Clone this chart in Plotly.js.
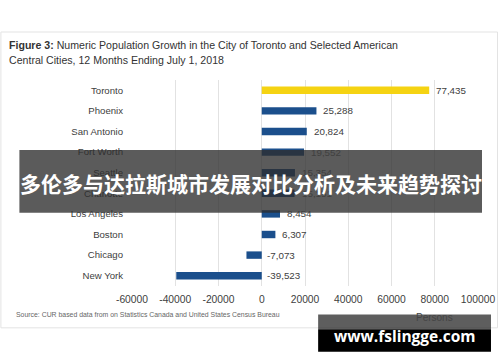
<!DOCTYPE html>
<html><head><meta charset="utf-8">
<script src="https://cdn.plot.ly/plotly-3.0.1.min.js"></script>
<style>html,body{margin:0;padding:0;background:#fff}#chart{width:500px;height:362px}</style>
</head><body><div id="chart"></div>
<script>
const cities = ["Toronto","Phoenix","San Antonio","Fort Worth","Seattle","Charlotte","Los Angeles","Boston","Chicago","New York"];
const growth = [77435,25288,20824,19552,15354,15151,8454,6307,-7073,-39523];
const xTicks = [-60000,-40000,-20000,0,20000,40000,60000,80000,100000];
const xTickText = ["-60000","-40000","-20000","0","20000","40000","60000","80000","100000"];
const titleLines = ["<b>Figure 3:</b> Numeric Population Growth in the City of Toronto and Selected American", "Central Cities, 12 Months Ending July 1, 2018"];
const sourceText = "Source: CUR based data from on Statistics Canada and United States Census Bureau";
const bannerText = "多伦多与达拉斯城市发展对比分析及未来趋势探讨";
const siteText = "www.fslingge.com";
const axisTitle = "Persons";

const L = 131.7, R = 478, T = 79.7, B = 286.5;
const W = R - L, H = B - T;
const px = x => (x - L) / W;
const py = y => 1 - (y - T) / H;

const font = "Liberation Sans, Arial, sans-serif";
const colors = cities.map(c => c === "Toronto" ? "#f5d312" : "#1b4f8c");

const fmt = v => (v < 0 ? "-" : "") + Math.abs(v).toLocaleString("en-US");

const annotations = cities.map((c, i) => ({
  x: Math.max(growth[i], 0), y: c, xref: "x", yref: "y",
  text: fmt(growth[i]), showarrow: false, xanchor: "left", xshift: growth[i] < 0 ? 3 : 5,
  font: {family: font, size: 9.8, color: "#404040"}
}));
titleLines.forEach((t, i) => annotations.push({
  xref: "paper", yref: "paper", x: px(7), y: py(45 + 15 * i), xanchor: "left", yanchor: "middle", align: "left",
  text: t, showarrow: false, font: {family: font, size: 10.6, color: "#333"}
}));
annotations.push({
  xref: "paper", yref: "paper", x: px(14), y: py(315), xanchor: "left", yanchor: "middle",
  text: sourceText, showarrow: false, font: {family: font, size: 6.9, color: "#666"}
});
annotations.push({
  xref: "x", yref: "paper", x: 80000, y: py(318), xanchor: "center", yanchor: "middle",
  text: axisTitle, showarrow: false, font: {family: font, size: 10, color: "#444"}
});

const shapes = [
  {type: "rect", xref: "paper", yref: "paper", x0: px(0.5), x1: px(497.5), y0: py(31.5), y1: py(328.5),
   line: {color: "#e3e3e3", width: 1}, fillcolor: "rgba(0,0,0,0)", layer: "below"},
  {type: "rect", xref: "paper", yref: "paper", x0: px(19), x1: px(482), y0: py(150), y1: py(213),
   line: {width: 0}, fillcolor: "rgba(45,45,45,0.78)", layer: "above"},
  {type: "rect", xref: "paper", yref: "paper", x0: px(318), x1: px(491), y0: py(315), y1: py(330),
   line: {width: 0}, fillcolor: "rgba(40,40,40,0.75)", layer: "above"},
  {type: "rect", xref: "paper", yref: "paper", x0: px(318), x1: px(491), y0: py(330), y1: py(352.5),
   line: {width: 0}, fillcolor: "#000", layer: "above"}
];

annotations.push({
  xref: "paper", yref: "paper", x: px(250.5), y: py(183), xanchor: "center", yanchor: "middle",
  text: "<b>" + bannerText + "</b>", showarrow: false,
  font: {family: "Noto Sans CJK SC, sans-serif", size: 21, color: "#fff"}
});
annotations.push({
  xref: "paper", yref: "paper", x: px(404.5), y: py(337), xanchor: "center", yanchor: "middle",
  text: "<b>" + siteText + "</b>", showarrow: false,
  font: {family: "Open Sans, DejaVu Sans, sans-serif", size: 15.5, color: "#fff"}
});

const data = [{
  type: "bar", orientation: "h", x: growth, y: cities,
  marker: {color: colors}, width: 0.36, hoverinfo: "none"
}];

const layout = {
  width: 500, height: 362,
  margin: {l: L, r: 500 - R, t: T, b: 362 - B, pad: 0},
  paper_bgcolor: "#fff", plot_bgcolor: "#fff",
  showlegend: false,
  xaxis: {
    range: [-60000, 100000], tickvals: xTicks, ticktext: xTickText,
    showgrid: true, gridcolor: "#e2e2e2", gridwidth: 1, zeroline: false,
    showline: false, ticks: "", ticklabelstandoff: 6,
    tickfont: {family: font, size: 10.3, color: "#404040"}
  },
  yaxis: {
    type: "category", autorange: "reversed", showgrid: false, zeroline: false, showline: false,
    ticks: "", ticklabelstandoff: 8,
    tickfont: {family: font, size: 9.6, color: "#404040"}
  },
  annotations: annotations,
  shapes: shapes
};

Plotly.newPlot("chart", data, layout, {displayModeBar: false, staticPlot: true});
</script>
</body></html>
